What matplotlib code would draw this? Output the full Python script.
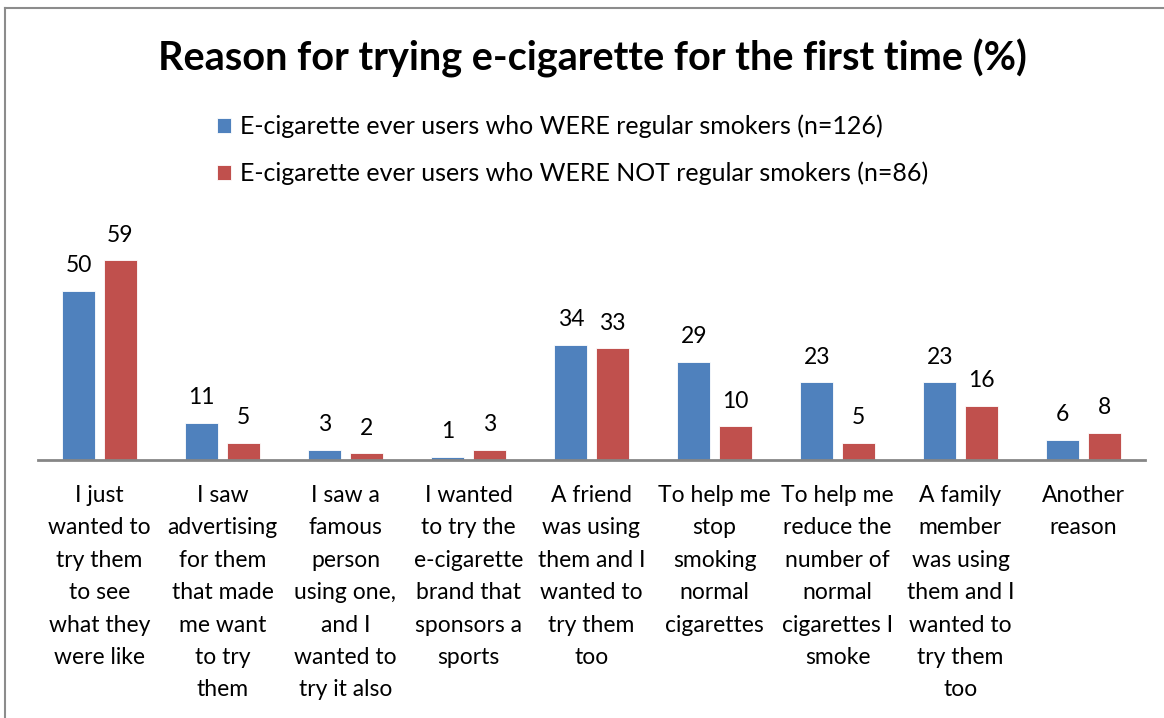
import numpy as np
import matplotlib.pyplot as plt
from matplotlib.lines import Line2D

plt.rcParams['font.family'] = ['Lato', 'DejaVu Sans']

# data
reasons = [
    "I just\nwanted to\ntry them\nto see\nwhat they\nwere like",
    "I saw\nadvertising\nfor them\nthat made\nme want\nto try\nthem",
    "I saw a\nfamous\nperson\nusing one,\nand I\nwanted to\ntry it also",
    "I wanted\nto try the\ne-cigarette\nbrand that\nsponsors a\nsports",
    "A friend\nwas using\nthem and I\nwanted to\ntry them\ntoo",
    "To help me\nstop\nsmoking\nnormal\ncigarettes",
    "To help me\nreduce the\nnumber of\nnormal\ncigarettes I\nsmoke",
    "A family\nmember\nwas using\nthem and I\nwanted to\ntry them\ntoo",
    "Another\nreason",
]
regular = [50, 11, 3, 1, 34, 29, 23, 23, 6]
not_regular = [59, 5, 2, 3, 33, 10, 5, 16, 8]
series_names = [
    "E-cigarette ever users who WERE regular smokers (n=126)",
    "E-cigarette ever users who WERE NOT regular smokers (n=86)",
]

blue = '#4F81BD'
red = '#C0504D'

W, H = 1164, 718
fig = plt.figure(figsize=(W / 100, H / 100), dpi=100)

# chart frame (left and top edges visible)
fig.add_artist(Line2D([5 / W, 5 / W], [0, 1 - 8 / H], color='#8c8c8c', lw=1.5))
fig.add_artist(Line2D([5 / W, 1], [1 - 8 / H, 1 - 8 / H], color='#8c8c8c', lw=1.5))

ax = fig.add_axes([38 / W, (H - 460) / H, 1107 / W, 237 / H])
x = np.arange(len(reasons))
bw = 0.27
off = 0.168
b1 = ax.bar(x - off, regular, bw, color=blue, edgecolor='white', linewidth=0.6, label=series_names[0])
b2 = ax.bar(x + off, not_regular, bw, color=red, edgecolor='white', linewidth=0.6, label=series_names[1])
ax.bar_label(b1, padding=10.5, fontsize=16.5)
ax.bar_label(b2, padding=10.5, fontsize=16.5)

ax.set_xlim(-0.5, len(reasons) - 0.5)
ax.set_ylim(0, 70)
ax.set_xticks(x)
ax.set_xticklabels(reasons, fontsize=16.5, linespacing=1.67)
ax.tick_params(axis='x', length=0, pad=18)
ax.set_yticks([])
for s in ['top', 'right', 'left']:
    ax.spines[s].set_visible(False)
ax.spines['bottom'].set_color('#868686')
ax.spines['bottom'].set_linewidth(2)

fig.text(592 / W, 1 - 58 / H, "Reason for trying e-cigarette for the first time (%)",
         ha='center', va='center', fontsize=28.5, fontweight='bold')

fig.legend(handles=[b1, b2], loc='upper left', bbox_to_anchor=(195 / W, 1 - 92 / H),
           frameon=False, fontsize=18, handlelength=0.55, handleheight=0.55,
           handletextpad=0.35, labelspacing=0.95)

fig.savefig('out.png', dpi=100)
